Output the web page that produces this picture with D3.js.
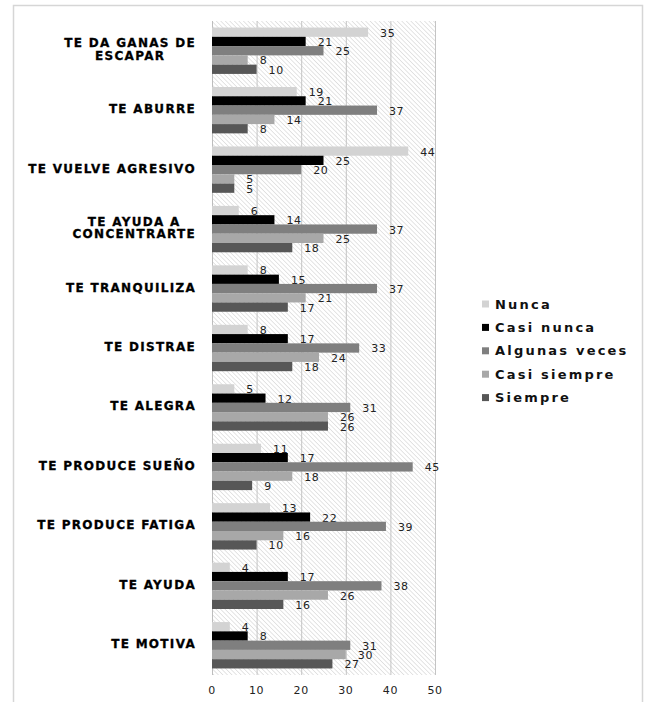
<!DOCTYPE html>
<html>
<head>
<meta charset="utf-8">
<script src="https://cdn.jsdelivr.net/npm/d3@7"></script>
<style>
  body { margin: 0; background: #fff; }
  svg { display: block; }
</style>
</head>
<body>
<div id="chart"></div>
<script>
// categories top to bottom, each label split in lines
const categories = [
    ["TE DA GANAS DE", "ESCAPAR"],
    ["TE ABURRE"],
    ["TE VUELVE AGRESIVO"],
    ["TE AYUDA A", "CONCENTRARTE"],
    ["TE TRANQUILIZA"],
    ["TE DISTRAE"],
    ["TE ALEGRA"],
    ["TE PRODUCE SUEÑO"],
    ["TE PRODUCE FATIGA"],
    ["TE AYUDA"],
    ["TE MOTIVA"]
];
const seriesNames = ["Nunca", "Casi nunca", "Algunas veces", "Casi siempre", "Siempre"];
const seriesColors = ["#d3d3d3", "#000000", "#7f7f7f", "#a8a8a8", "#575757"];

const nunca        = [35, 19, 44, 6, 8, 8, 5, 11, 13, 4, 4];
const casiNunca    = [21, 21, 25, 14, 15, 17, 12, 17, 22, 17, 8];
const algunasVeces = [25, 37, 20, 37, 37, 33, 31, 45, 39, 38, 31];
const casiSiempre  = [8, 14, 5, 25, 21, 24, 26, 18, 16, 26, 30];
const siempre      = [10, 8, 5, 18, 17, 18, 26, 9, 10, 16, 27];
const seriesValues = [nunca, casiNunca, algunasVeces, casiSiempre, siempre];
const xTicks = [0, 10, 20, 30, 40, 50];

const width = 646, height = 702;
const plot = {left: 212, right: 435, top: 21, bottom: 675};

const svg = d3.select("#chart").append("svg")
    .attr("width", width)
    .attr("height", height);

// outer frame
svg.append("rect")
    .attr("x", 13.5).attr("y", 5.5)
    .attr("width", 629).attr("height", 710)
    .attr("fill", "none")
    .attr("stroke", "#d6d6d6")
    .attr("stroke-width", 1.5);

// hatch background
const defs = svg.append("defs");
defs.append("pattern")
    .attr("id", "hatch")
    .attr("patternUnits", "userSpaceOnUse")
    .attr("width", 3.2).attr("height", 3.2)
    .attr("patternTransform", "rotate(-45)")
    .append("line")
    .attr("x1", 0).attr("y1", 0).attr("x2", 0).attr("y2", 3.2)
    .attr("stroke", "#cfcfcf")
    .attr("stroke-width", 1.1);

const x = d3.scaleLinear().domain([0, 50]).range([plot.left, plot.right]);
const y = d3.scaleBand()
    .domain(d3.range(categories.length))
    .range([plot.top, plot.bottom])
    .paddingInner(0.22)
    .paddingOuter(0.11);
const ySub = d3.scaleBand()
    .domain(d3.range(seriesNames.length))
    .range([0, y.bandwidth()]);

svg.append("rect")
    .attr("x", plot.left).attr("y", plot.top)
    .attr("width", plot.right - plot.left).attr("height", plot.bottom - plot.top)
    .attr("fill", "url(#hatch)");

// gridlines
svg.append("g").selectAll("line")
    .data(xTicks)
    .join("line")
    .attr("x1", d => x(d) + 0.5).attr("x2", d => x(d) + 0.5)
    .attr("y1", plot.top).attr("y2", plot.bottom)
    .attr("stroke", d => d === 0 ? "#bdbdbd" : "#c4c4c4")
    .attr("stroke-width", 1);

// bars
const groups = svg.append("g").selectAll("g")
    .data(categories)
    .join("g")
    .attr("transform", (d, i) => `translate(0,${y(i)})`);

groups.each(function (cat, ci) {
    const g = d3.select(this);
    seriesValues.forEach((vals, si) => {
        g.append("rect")
            .attr("x", x(0))
            .attr("y", ySub(si))
            .attr("width", x(vals[ci]) - x(0))
            .attr("height", ySub.bandwidth())
            .attr("fill", seriesColors[si]);
        g.append("text")
            .attr("x", x(vals[ci]) + 12)
            .attr("y", ySub(si) + ySub.bandwidth() / 2 + 1)
            .attr("dominant-baseline", "central")
            .attr("font-family", "DejaVu Sans, sans-serif")
            .attr("font-size", 11)
            .attr("letter-spacing", 0.6)
            .attr("fill", "#222")
            .text(vals[ci]);
    });
});

// category labels
const catLabels = svg.append("g").selectAll("text")
    .data(categories)
    .join("text")
    .attr("font-family", "DejaVu Sans, sans-serif")
    .attr("font-weight", "bold")
    .attr("font-size", 12)
    .attr("letter-spacing", 1.3)
    .attr("fill", "#000")
    .attr("stroke", "#000")
    .attr("stroke-width", 0.3)
    .attr("dominant-baseline", "central");

catLabels.each(function (lines, i) {
    const t = d3.select(this);
    const cy = y(i) + y.bandwidth() / 2 - 1;
    const lh = 12.5;
    // right-align the block, center lines inside it
    lines.forEach((line, li) => {
        t.append("tspan")
            .attr("y", cy + (li - (lines.length - 1) / 2) * lh)
            .text(line);
    });
    const tspans = t.selectAll("tspan").nodes();
    const widths = tspans.map(n => n.getComputedTextLength());
    const maxW = d3.max(widths);
    const center = 196 - maxW / 2;
    tspans.forEach(n => {
        d3.select(n).attr("x", center).attr("text-anchor", "middle");
    });
});

// x axis labels
svg.append("g").selectAll("text")
    .data(xTicks)
    .join("text")
    .attr("x", d => x(d))
    .attr("y", 690)
    .attr("text-anchor", "middle")
    .attr("dominant-baseline", "central")
    .attr("font-family", "DejaVu Sans, sans-serif")
    .attr("font-size", 11)
    .attr("letter-spacing", 0.6)
    .attr("fill", "#222")
    .text(d => d);

// legend
const legend = svg.append("g").selectAll("g")
    .data(seriesNames)
    .join("g")
    .attr("transform", (d, i) => `translate(482,${304 + i * 23.4})`);

legend.append("rect")
    .attr("x", 0).attr("y", -3.5)
    .attr("width", 7).attr("height", 7)
    .attr("fill", (d, i) => seriesColors[i]);

legend.append("text")
    .attr("x", 13)
    .attr("y", 0)
    .attr("dominant-baseline", "central")
    .attr("font-family", "DejaVu Sans, sans-serif")
    .attr("font-weight", "bold")
    .attr("font-size", 13)
    .attr("letter-spacing", 2.2)
    .attr("fill", "#111")
    .text(d => d);
</script>
</body>
</html>
